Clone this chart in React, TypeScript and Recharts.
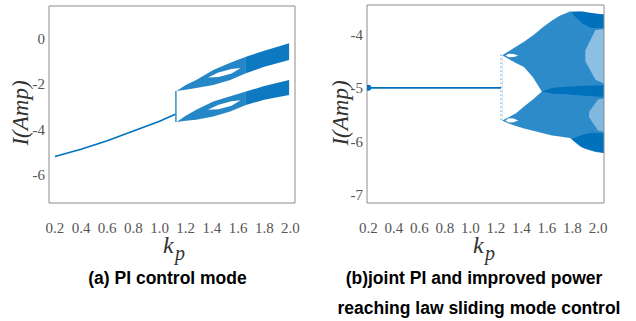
import React from 'react';
import { ComposedChart, Area, Line, Scatter, XAxis, YAxis } from 'recharts';

const BLUE = '#0072BD';
const AXIS = '#8c8c8c';
const SERIF = 'Liberation Serif';
const SANS = 'Liberation Sans';
const TICK_FONT = { fill: '#555', fontSize: 15, fontFamily: SERIF };

const KP_TICKS = [0.2, 0.4, 0.6, 0.8, 1.0, 1.2, 1.4, 1.6, 1.8, 2.0];

// (a) PI control mode
const A_I_TICKS = [-6, -4, -2, 0];
const A_BASE_KP = [0.2, 0.4, 0.6, 0.8, 1.0, 1.12];
const A_BASE_I = [-5.2, -4.88, -4.5, -4.08, -3.65, -3.34];
const A_JUMP_KP = [1.125, 1.125];
const A_JUMP_I = [-3.68, -2.32];
const A_BAND_KP = [1.13, 1.2, 1.28, 1.41, 1.54, 1.66];
const A_UP_HI = [-2.32, -2.05, -1.83, -1.39, -1.08, -0.81];
const A_UP_LO = [-2.32, -2.26, -2.19, -2.05, -1.83, -1.54];
const A_DN_HI = [-3.68, -3.4, -3.14, -2.78, -2.55, -2.34];
const A_DN_LO = [-3.68, -3.62, -3.58, -3.44, -3.22, -2.93];
const A_DENSE_KP = [1.66, 1.8, 1.99];
const A_UPD_HI = [-0.81, -0.55, -0.22];
const A_UPD_LO = [-1.54, -1.25, -0.95];
const A_DND_HI = [-2.34, -2.1, -1.83];
const A_DND_LO = [-2.93, -2.7, -2.49];
const A_HOLE_KP = [1.37, 1.45, 1.55, 1.62];
const A_UPH_HI = [-1.72, -1.5, -1.35, -1.3];
const A_UPH_LO = [-1.72, -1.7, -1.55, -1.3];
const A_DNH_HI = [-3.14, -2.92, -2.77, -2.72];
const A_DNH_LO = [-3.14, -3.12, -2.97, -2.72];

// (b) joint PI and improved power reaching law sliding mode control
const B_I_TICKS = [-7, -6, -5, -4];
const B_FLAT_KP = [0.2, 1.24];
const B_FLAT_I = [-5.0, -5.0];
const B_DOT_KP = [0.2];
const B_DOT_I = [-5.0];
const B_SPLIT_KP = [1.24, 1.24];
const B_SPLIT_I = [-4.38, -5.62];
const B_CLOUD_KP = [1.25, 1.29, 1.35, 1.42, 1.5, 1.57, 1.64, 1.7, 1.78, 1.86, 1.91, 1.98, 2.047];
const B_CLOUD_HI = [-4.39, -4.33, -4.24, -4.14, -4.0, -3.86, -3.74, -3.65, -3.57, -3.57, -3.6, -3.62, -3.63];
const B_CLOUD_LO = [-5.61, -5.66, -5.71, -5.76, -5.81, -5.85, -5.89, -5.91, -5.94, -6.1, -6.15, -6.2, -6.22];
const B_GAP_KP = [1.25, 1.3, 1.36, 1.42, 1.49, 1.56];
const B_GAP_HI = [-4.39, -4.46, -4.54, -4.61, -4.8, -5.07];
const B_GAP_LO = [-5.61, -5.55, -5.47, -5.35, -5.22, -5.07];
const B_LENS_KP = [1.275, 1.3, 1.34, 1.375];
const B_LENS_UP_HI = [-4.395, -4.36, -4.365, -4.4];
const B_LENS_UP_LO = [-4.395, -4.43, -4.425, -4.4];
const B_LENS_DN_HI = [-5.61, -5.57, -5.575, -5.61];
const B_LENS_DN_LO = [-5.61, -5.65, -5.645, -5.61];
const B_TOPB_KP = [1.8, 1.88, 1.95, 2.047];
const B_TOPB_HI = [-3.58, -3.57, -3.6, -3.63];
const B_TOPB_LO = [-3.62, -3.8, -3.88, -3.88];
const B_MIDB_KP = [1.56, 1.65, 1.75, 1.9, 2.047];
const B_MIDB_HI = [-5.07, -5.0, -4.98, -4.96, -4.95];
const B_MIDB_LO = [-5.07, -5.11, -5.12, -5.15, -5.17];
const B_BOTB_KP = [1.8, 1.88, 1.95, 2.047];
const B_BOTB_HI = [-5.95, -5.88, -5.84, -5.85];
const B_BOTB_LO = [-5.97, -6.12, -6.17, -6.22];
const B_SPARSE1_KP = [1.9, 1.98, 2.047];
const B_SPARSE1_HI = [-4.3, -3.92, -3.9];
const B_SPARSE1_LO = [-4.5, -4.85, -4.92];
const B_SPARSE2_KP = [1.93, 2.0, 2.047];
const B_SPARSE2_HI = [-5.45, -5.22, -5.2];
const B_SPARSE2_LO = [-5.55, -5.8, -5.82];

const band = (kp: number[], lo: number[], hi: number[]) => kp.map((k, i) => ({ kp: k, r: [lo[i], hi[i]] }));
const pts = (kp: number[], v: number[]) => kp.map((k, i) => ({ kp: k, v: v[i] }));

const fmt = (v: number) => v.toFixed(1);

// matlab style box: labels outside, ticks pointing inward on all four sides
const frame = (xd: number[], yd: number[], yTicks: number[]) => [
  <XAxis key="xb" xAxisId="b" dataKey="kp" type="number" domain={xd} ticks={KP_TICKS} allowDataOverflow
    tickFormatter={fmt} tickLine={false} tickSize={0} tickMargin={19} height={30} stroke={AXIS} tick={TICK_FONT} />,
  <XAxis key="xbm" xAxisId="bm" type="number" domain={xd} ticks={KP_TICKS} allowDataOverflow mirror
    tick={false} tickSize={4} axisLine={false} stroke={AXIS} />,
  <XAxis key="xt" xAxisId="t" orientation="top" type="number" domain={xd} ticks={KP_TICKS} allowDataOverflow mirror
    tick={false} tickSize={4} stroke={AXIS} />,
  <YAxis key="yl" yAxisId="l" type="number" domain={yd} ticks={yTicks} allowDataOverflow
    tickLine={false} tickSize={0} tickMargin={4} width={40} stroke={AXIS} tick={TICK_FONT} />,
  <YAxis key="ylm" yAxisId="lm" type="number" domain={yd} ticks={yTicks} allowDataOverflow mirror
    tick={false} tickSize={4} axisLine={false} stroke={AXIS} />,
  <YAxis key="yr" yAxisId="r" orientation="right" type="number" domain={yd} ticks={yTicks} allowDataOverflow mirror
    tick={false} tickSize={4} stroke={AXIS} />,
];

const areaProps = { xAxisId: 'b', yAxisId: 'l', dataKey: 'r', type: 'linear' as const, stroke: 'none', isAnimationActive: false };
const lineProps = { xAxisId: 'b', yAxisId: 'l', dataKey: 'v', type: 'linear' as const, dot: false, isAnimationActive: false };

const PanelA = () => (
  <ComposedChart width={316} height={245} margin={{ top: 6, right: 21, bottom: 12, left: 9 }}>
    {frame([0.155, 2.035], [-7.24, 1.42], A_I_TICKS)}
    <Line {...lineProps} data={pts(A_BASE_KP, A_BASE_I)} stroke={BLUE} strokeWidth={1.6} />
    <Line {...lineProps} data={pts(A_JUMP_KP, A_JUMP_I)} stroke={BLUE} strokeWidth={1.2} />
    <Area {...areaProps} data={band(A_BAND_KP, A_UP_LO, A_UP_HI)} fill={BLUE} fillOpacity={0.85} />
    <Area {...areaProps} data={band(A_BAND_KP, A_DN_LO, A_DN_HI)} fill={BLUE} fillOpacity={0.85} />
    <Area {...areaProps} data={band(A_DENSE_KP, A_UPD_LO, A_UPD_HI)} fill={BLUE} fillOpacity={0.95} />
    <Area {...areaProps} data={band(A_DENSE_KP, A_DND_LO, A_DND_HI)} fill={BLUE} fillOpacity={0.95} />
    <Area {...areaProps} data={band(A_HOLE_KP, A_UPH_LO, A_UPH_HI)} fill="#fff" fillOpacity={1} />
    <Area {...areaProps} data={band(A_HOLE_KP, A_DNH_LO, A_DNH_HI)} fill="#fff" fillOpacity={1} />
  </ComposedChart>
);

const PanelB = () => (
  <ComposedChart width={320} height={245} margin={{ top: 5, right: 32, bottom: 12, left: 11 }}>
    {frame([0.19, 2.047], [-7.155, -3.45], B_I_TICKS)}
    <Area {...areaProps} data={band(B_CLOUD_KP, B_CLOUD_LO, B_CLOUD_HI)} fill={BLUE} fillOpacity={0.82} />
    <Area {...areaProps} data={band(B_GAP_KP, B_GAP_LO, B_GAP_HI)} fill="#fff" fillOpacity={1} />
    <Area {...areaProps} data={band(B_SPARSE1_KP, B_SPARSE1_LO, B_SPARSE1_HI)} fill="#fff" fillOpacity={0.45} />
    <Area {...areaProps} data={band(B_SPARSE2_KP, B_SPARSE2_LO, B_SPARSE2_HI)} fill="#fff" fillOpacity={0.4} />
    <Area {...areaProps} data={band(B_TOPB_KP, B_TOPB_LO, B_TOPB_HI)} fill={BLUE} fillOpacity={1} />
    <Area {...areaProps} data={band(B_MIDB_KP, B_MIDB_LO, B_MIDB_HI)} fill={BLUE} fillOpacity={1} />
    <Area {...areaProps} data={band(B_BOTB_KP, B_BOTB_LO, B_BOTB_HI)} fill={BLUE} fillOpacity={1} />
    <Area {...areaProps} data={band(B_LENS_KP, B_LENS_UP_LO, B_LENS_UP_HI)} fill="#fff" fillOpacity={1} />
    <Area {...areaProps} data={band(B_LENS_KP, B_LENS_DN_LO, B_LENS_DN_HI)} fill="#fff" fillOpacity={1} />
    <Line {...lineProps} data={pts(B_FLAT_KP, B_FLAT_I)} stroke={BLUE} strokeWidth={1.6} />
    <Line {...lineProps} data={pts(B_SPLIT_KP, B_SPLIT_I)} stroke={BLUE} strokeWidth={1} strokeDasharray="1 3" />
    <Scatter xAxisId="b" yAxisId="l" dataKey="v" data={pts(B_DOT_KP, B_DOT_I)} isAnimationActive={false}
      shape={(p: any) => <circle cx={p.cx} cy={p.cy} r={3} fill={BLUE} />} />
  </ComposedChart>
);

export default function App() {
  return (
    <div style={{ position: 'absolute', left: 0, top: 0, width: 636, height: 321, background: '#fff', fontFamily: SERIF }}>
      <div style={{ position: 'absolute', left: 0, top: 0 }}><PanelA /></div>
      <div style={{ position: 'absolute', left: 316, top: 0 }}><PanelB /></div>
      <svg width={636} height={321} style={{ position: 'absolute', left: 0, top: 0, pointerEvents: 'none' }}>
        <text transform="translate(28,113) rotate(-90)" textAnchor="middle" fontFamily={SERIF} fontStyle="italic" fontSize={23} fill="#333">I(Amp)</text>
        <text transform="translate(348,113) rotate(-90)" textAnchor="middle" fontFamily={SERIF} fontStyle="italic" fontSize={23} fill="#333">I(Amp)</text>
        <text x={163} y={253} fontFamily={SERIF} fontStyle="italic" fontSize={24} fill="#333">k</text>
        <text x={175} y={260} fontFamily={SERIF} fontStyle="italic" fontSize={20} fill="#333">p</text>
        <text x={473} y={253} fontFamily={SERIF} fontStyle="italic" fontSize={24} fill="#333">k</text>
        <text x={485} y={260} fontFamily={SERIF} fontStyle="italic" fontSize={20} fill="#333">p</text>
        <text x={167.5} y={284} textAnchor="middle" fontFamily={SANS} fontWeight="bold" fontSize={17.5} fill="#000">(a) PI control mode</text>
        <text x={474} y={284} textAnchor="middle" fontFamily={SANS} fontWeight="bold" fontSize={17.5} fill="#000">(b)joint PI and improved power</text>
        <text x={479} y={314} textAnchor="middle" fontFamily={SANS} fontWeight="bold" fontSize={17.5} fill="#000">reaching law sliding mode control</text>
      </svg>
    </div>
  );
}
